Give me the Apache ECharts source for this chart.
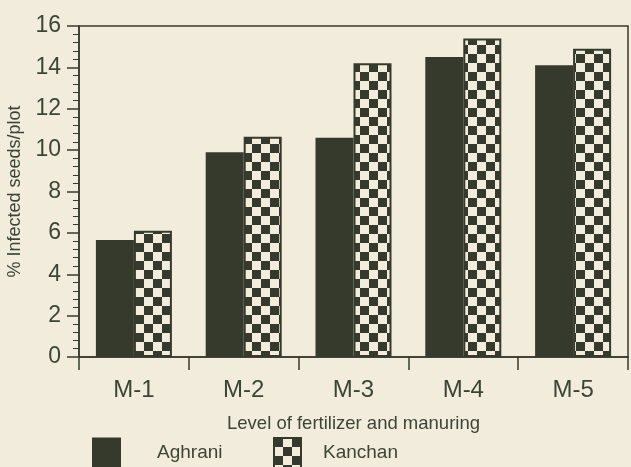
<!DOCTYPE html>
<html>
<head>
<meta charset="utf-8">
<script src="https://cdn.jsdelivr.net/npm/echarts@6/dist/echarts.min.js"></script>
<style>
    html, body { margin: 0; padding: 0; background: #f1ecdc; }
    #chart { width: 631px; height: 467px; }
</style>
</head>
<body>
<div id="chart"></div>
<script>
    // 数据
    var categories = ['M-1', 'M-2', 'M-3', 'M-4', 'M-5'];
    var aghrani = [5.65, 9.9, 10.6, 14.5, 14.1];
    var kanchan = [6.1, 10.65, 14.2, 15.4, 14.9];
    var yTicks = [0, 16, 2];

    var ink = '#363a2c';
    var textColor = '#3c4535';
    var paper = '#f1ecdc';

    // 棋盘格图案
    function makeChecker(size) {
        var c = document.createElement('canvas');
        c.width = size * 2;
        c.height = size * 2;
        var ctx = c.getContext('2d');
        ctx.fillStyle = paper;
        ctx.fillRect(0, 0, size * 2, size * 2);
        ctx.fillStyle = ink;
        ctx.fillRect(0, 0, size, size);
        ctx.fillRect(size, size, size, size);
        return c;
    }
    var checker = { image: makeChecker(9), repeat: 'repeat' };

    var myChart = echarts.init(document.getElementById('chart'));
    var font = 'Liberation Sans, Arial, sans-serif';

    myChart.setOption({
        backgroundColor: paper,
        animation: false,
        grid: {
            left: 79, right: 3, top: 26, bottom: 110,
            containLabel: false,
            outerBoundsMode: 'none',
            show: true, borderColor: ink, borderWidth: 1.5
        },
        legend: [{
            left: 92, top: 437, padding: 0, itemWidth: 29, itemHeight: 30,
            icon: 'rect',
            textStyle: { color: textColor, fontSize: 19, lineHeight: 19, fontFamily: font, padding: [12, 0, 0, 31] },
            data: ['Aghrani']
        }, {
            left: 273, top: 437, padding: 0, itemWidth: 27, itemHeight: 30,
            icon: 'rect',
            textStyle: { color: textColor, fontSize: 19, lineHeight: 19, fontFamily: font, padding: [12, 0, 0, 17] },
            data: ['Kanchan']
        }],
        xAxis: {
            type: 'category',
            data: categories,
            name: 'Level of fertilizer and manuring',
            nameLocation: 'middle',
            nameGap: 57,
            nameTextStyle: { color: textColor, fontSize: 18.5, fontFamily: font },
            axisLine: { lineStyle: { color: ink, width: 1.5 } },
            axisTick: { show: true, length: 13, lineStyle: { color: ink, width: 1.5 } },
            axisLabel: { color: textColor, fontSize: 24, fontFamily: font, margin: 21 }
        },
        yAxis: {
            type: 'value',
            min: yTicks[0], max: yTicks[1], interval: yTicks[2],
            name: '% Infected seeds/plot',
            nameLocation: 'middle',
            nameGap: 48,
            nameTextStyle: { color: textColor, fontSize: 18, fontFamily: font },
            splitLine: { show: false },
            axisLine: { show: true, lineStyle: { color: ink, width: 1.5 } },
            axisTick: { show: true, length: 12, lineStyle: { color: ink, width: 1.5 } },
            minorTick: { show: true, splitNumber: 5, length: 6, lineStyle: { color: ink, width: 1 } },
            axisLabel: { color: textColor, fontSize: 23, fontFamily: font, margin: 18 }
        },
        series: [{
            name: 'Aghrani',
            type: 'bar',
            data: aghrani,
            barWidth: 38,
            barGap: '0%',
            itemStyle: { color: ink }
        }, {
            name: 'Kanchan',
            type: 'bar',
            data: kanchan,
            barWidth: 38,
            itemStyle: { color: checker, borderColor: ink, borderWidth: 2 }
        }]
    });
</script>
</body>
</html>
